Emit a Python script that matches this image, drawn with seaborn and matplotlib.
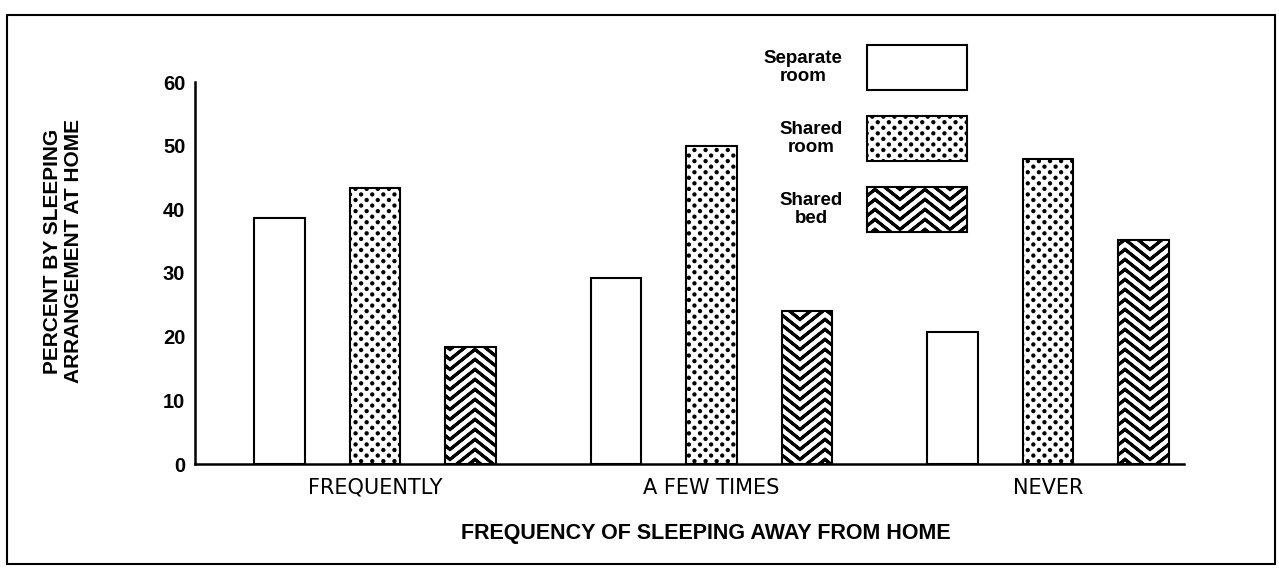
import numpy as np
import pandas as pd
import matplotlib
matplotlib.use("Agg")
import matplotlib.pyplot as plt
import matplotlib.hatch as mhatch
from matplotlib.path import Path
from matplotlib.patches import Rectangle
import seaborn as sns

# ---------------- data ----------------
frequencies = ["FREQUENTLY", "A FEW TIMES", "NEVER"]
arrangements = ["Separate room", "Shared room", "Shared bed"]
separate_room = [38.7, 29.2, 20.8]
shared_room = [43.4, 49.9, 47.9]
shared_bed = [18.3, 24.1, 35.2]
y_ticks = [0, 10, 20, 30, 40, 50, 60]
legend_labels = ["Separate\nroom", "Shared\nroom", "Shared\nbed"]
y_title = "PERCENT BY SLEEPING\nARRANGEMENT AT HOME"
x_title = "FREQUENCY OF SLEEPING AWAY FROM HOME"

df = pd.DataFrame({
    "frequency": frequencies * 3,
    "arrangement": np.repeat(arrangements, 3),
    "percent": separate_room + shared_room + shared_bed,
})


# ---------------- custom hatch patterns ----------------
class ChevronHatch(mhatch.HatchPatternBase):
    """Stacked zig-zag lines (drawn forward and back so fill has no area).
    Each line is drawn twice with a small offset to make it bolder."""
    periods = 2
    amp = 0.2
    thick = (0.0, 0.012)

    def __init__(self, hatch, density):
        self.num_lines = hatch.count("|") * 10
        if self.num_lines:
            self.k0 = int(np.ceil(self.amp * self.num_lines)) + 1
            self.npts = 2 * self.periods + 1
            self.per_line = 2 * self.npts - 1
            self.nrows = (self.num_lines + self.k0 + 1) * len(self.thick)
            self.num_vertices = self.nrows * self.per_line
        else:
            self.num_vertices = 0

    def set_vertices_and_codes(self, vertices, codes):
        xs = np.linspace(0, 1, self.npts)
        bump = np.where(np.arange(self.npts) % 2 == 1, self.amp, 0.0)
        xs = np.concatenate([xs, xs[-2::-1]])
        bump = np.concatenate([bump, bump[-2::-1]])
        base = np.arange(-self.k0, self.num_lines + 1) / self.num_lines
        rows = np.concatenate([base + t for t in self.thick])
        v = np.empty((len(rows), self.per_line, 2))
        v[:, :, 0] = xs
        v[:, :, 1] = rows[:, None] + bump[None, :]
        vertices[:] = v.reshape(-1, 2)
        c = np.full((len(rows), self.per_line), Path.LINETO, dtype=Path.code_type)
        c[:, 0] = Path.MOVETO
        codes[:] = c.reshape(-1)


class DotHatch(mhatch.HatchPatternBase):
    """Diagonal grid of filled dots."""
    radius = 0.011

    def __init__(self, hatch, density):
        self.ncols = hatch.count(".") * 9
        circ = Path.unit_circle()
        self.cv = circ.vertices
        self.cc = circ.codes
        if self.ncols:
            nrows = 2 * self.ncols
            self.num_shapes = (nrows // 2 + 1) * (self.ncols + 1) + (nrows // 2) * self.ncols
            self.num_vertices = self.num_shapes * len(self.cv)
        else:
            self.num_vertices = 0

    def set_vertices_and_codes(self, vertices, codes):
        n = self.ncols
        step = 1.0 / n
        shape = self.cv * self.radius
        parts, cparts = [], []
        for r in range(2 * n + 1):
            if r % 2 == 0:
                cols = np.linspace(0, 1, n + 1)
            else:
                cols = np.linspace(step / 2, 1 - step / 2, n)
            for c in cols:
                parts.append(shape + [c, r * step / 2])
                cparts.append(self.cc)
        np.concatenate(parts, out=vertices)
        np.concatenate(cparts, out=codes)


mhatch._hatch_types[:] = [t for t in mhatch._hatch_types
                          if t not in (mhatch.VerticalHatch, mhatch.SmallFilledCircles)]
mhatch._hatch_types += [ChevronHatch, DotHatch]

# ---------------- style ----------------
sns.set_style("white")
plt.rcParams["font.family"] = ["Liberation Sans", "DejaVu Sans"]
plt.rcParams["hatch.linewidth"] = 1.5
plt.rcParams["hatch.color"] = "black"
for key in ["text.color", "axes.labelcolor", "xtick.color", "ytick.color"]:
    plt.rcParams[key] = "black"

fig = plt.figure(figsize=(12.79, 5.68), dpi=100)
ax = fig.add_axes([195 / 1279, 1 - 464 / 568, (1184 - 195) / 1279, (464 - 82) / 568])

sns.barplot(data=df, x="frequency", y="percent", hue="arrangement",
            order=frequencies, hue_order=arrangements,
            palette=["white"] * 3, saturation=1, edgecolor="black",
            linewidth=1.5, width=0.85, gap=0.47, legend=False, ax=ax,
            errorbar=None)

hatches = ["", ".", "|"]
for cont, h in zip(ax.containers, hatches):
    for bar in cont.patches:
        bar.set_hatch(h)

ax.set_xlim(-0.535, 2.404)
ax.set_ylim(0, 60)
ax.set_yticks(y_ticks)
ax.set_yticklabels([str(t) for t in y_ticks], fontsize=14.5, fontweight="bold")
ax.set_xticks(range(len(frequencies)))
ax.set_xticklabels(frequencies, fontsize=15, family="DejaVu Sans")
ax.tick_params(axis="y", direction="in", length=29, width=1.5, pad=7, colors="black")
ax.tick_params(axis="x", length=0, pad=10, colors="black")

for side in ["top", "right"]:
    ax.spines[side].set_visible(False)
for side in ["left", "bottom"]:
    ax.spines[side].set_linewidth(1.8)
    ax.spines[side].set_color("black")

ax.set_ylabel(y_title, fontsize=15, fontweight="bold", va="center", linespacing=1.1)
ax.yaxis.set_label_coords((63 - 195) / 989, (464 - 251) / 382)
ax.set_xlabel(x_title, fontsize=15.5, fontweight="bold", va="center")
ax.xaxis.set_label_coords((706 - 195) / 989, (464 - 533) / 382)

fs = 13.5
leg = ax.legend(ax.containers, legend_labels, loc="upper right",
                bbox_to_anchor=(967 / 1279, 1 - 45 / 568), bbox_transform=fig.transFigure,
                frameon=False, markerfirst=False, borderpad=0, borderaxespad=0,
                handlelength=100 / (fs * 1.389), handleheight=3.3,
                handletextpad=1.3, labelspacing=1.4,
                prop={"size": fs, "weight": "bold"})
for t in leg.get_texts():
    t.set_multialignment("center")
    t.set_linespacing(1.1)
for col in leg._legend_handle_box.get_children():
    for row in col.get_children():
        row.align = "center"

fig.add_artist(Rectangle((7 / 1279, 1 - 564 / 568), (1275 - 7) / 1279, (564 - 15) / 568,
                         transform=fig.transFigure, fill=False, lw=1.5, ec="black"))

fig.savefig("out.png", dpi=100)
